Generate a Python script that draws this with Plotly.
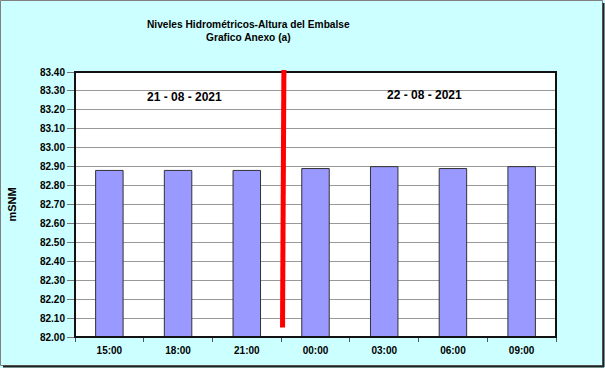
import plotly.graph_objects as go

# ---- data ----
hours = ["15:00", "18:00", "21:00", "00:00", "03:00", "06:00", "09:00"]
levels = [82.88, 82.88, 82.88, 82.89, 82.90, 82.89, 82.90]
day_labels = ["21 - 08 - 2021", "22 - 08 - 2021"]
day_label_x = [1.09, 4.58]        # category-index positions of the day labels
day_label_y = [83.27, 83.28]
divider_x = [2.52, 2.54]          # day-change marker (bottom, top), category index
divider_y = [82.05, 83.41]
y_ticks = [round(82.0 + 0.1 * i, 2) for i in range(15)]

W, H = 605, 368
ML, MR, MT, MB = 75, 49, 72, 31
PW, PH = W - ML - MR, H - MT - MB
YMIN, YMAX = 82.0, 83.4
FONT = "Liberation Sans, Arial, sans-serif"

fig = go.Figure()
fig.add_trace(go.Bar(
    x=list(range(len(hours))), y=[v - YMIN for v in levels], base=YMIN,
    width=0.4, marker=dict(color="#9999FF", line=dict(color="#333333", width=1)),
    hoverinfo="skip",
))

def fx(px):  # figure pixel -> paper x
    return (px - ML) / PW

def fy(py):  # figure pixel (from top) -> paper y
    return (H - MB - py) / PH

shapes = [
    # figure border (gray) and shadow (dark)
    dict(type="rect", xref="paper", yref="paper", x0=fx(0.5), x1=fx(W - 2.5), y0=fy(H - 2.5), y1=fy(0.5),
         line=dict(color="#808080", width=1), layer="below"),
    dict(type="line", xref="paper", yref="paper", x0=fx(W - 1.5), x1=fx(W - 1.5), y0=fy(H - 1), y1=fy(3),
         line=dict(color="#202020", width=2)),
    dict(type="line", xref="paper", yref="paper", x0=fx(3), x1=fx(W - 1), y0=fy(H - 1.5), y1=fy(H - 1.5),
         line=dict(color="#202020", width=2)),
    # plot frame
    dict(type="rect", xref="paper", yref="paper", x0=0, x1=1, y0=0, y1=1,
         line=dict(color="#111111", width=2)),
    # divider between days
    dict(type="line", xref="x", yref="paper",
         x0=divider_x[0], x1=divider_x[1],
         y0=(divider_y[0] - YMIN) / (YMAX - YMIN), y1=(divider_y[1] - YMIN) / (YMAX - YMIN),
         line=dict(color="#FF0000", width=5)),
]

annotations = [
    dict(xref="paper", yref="paper", x=fx(248), y=fy(31.5), yanchor="middle", showarrow=False,
         text="<b>Niveles Hidrométricos-Altura del Embalse<br>Grafico Anexo (a)</b>",
         font=dict(family=FONT, size=10.2, color="#000"), align="center"),
    dict(xref="paper", yref="paper", x=fx(11), y=0.5, xanchor="center", yanchor="middle",
         textangle=-90, showarrow=False,
         text="<b>mSNM</b>", font=dict(family=FONT, size=11, color="#000")),
]
for t, xv, yv in zip(day_labels, day_label_x, day_label_y):
    annotations.append(dict(x=xv, y=yv, xref="x", yref="y", showarrow=False, text=f"<b>{t}</b>",
                            font=dict(family=FONT, size=12, color="#000")))

fig.update_layout(
    width=W, height=H, margin=dict(l=ML, r=MR, t=MT, b=MB),
    paper_bgcolor="#CCFFFF", plot_bgcolor="#FFFFFF", showlegend=False,
    shapes=shapes, annotations=annotations,
    xaxis=dict(range=[-0.5, len(hours) - 0.5], tickvals=list(range(len(hours))),
               ticktext=[f"<b>{h}</b>" for h in hours],
               ticks="", showgrid=False, zeroline=False, showline=False, ticklabelstandoff=6,
               tickfont=dict(family=FONT, size=10, color="#000"),
               minor=dict(tickvals=[i - 0.5 for i in range(len(hours) + 1)], ticks="outside",
                          ticklen=4, tickcolor="#555555", showgrid=False)),
    yaxis=dict(range=[YMIN, YMAX], tickvals=y_ticks, ticktext=[f"<b>{v:.2f}</b>" for v in y_ticks],
               ticks="outside", ticklen=7, tickcolor="#777777", showgrid=True, gridcolor="#999999",
               gridwidth=1, zeroline=False, showline=False,
               tickfont=dict(family=FONT, size=10, color="#000")),
)
fig.update_layout(font=dict(family=FONT))
fig.write_html("out.html", config={"displayModeBar": False, "staticPlot": True},
               post_script="document.body.style.margin='0';document.body.style.overflow='hidden';")
